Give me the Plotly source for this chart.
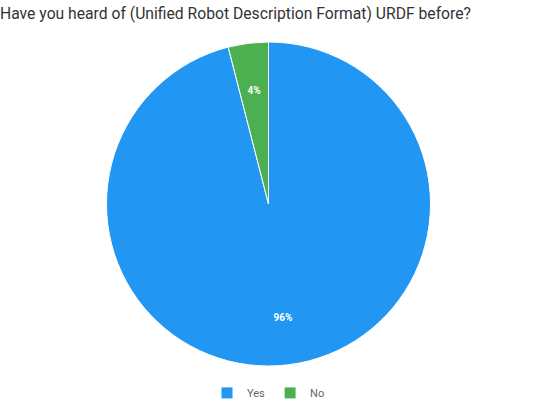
import plotly.graph_objects as go

labels = ["Yes", "No"]
counts = [24, 1]
colors = ["#2196F3", "#4CAF50"]

fig = go.Figure()

# filled pie, no text
fig.add_trace(go.Pie(
    labels=labels,
    values=counts,
    sort=False,
    direction="clockwise",
    rotation=0,
    marker=dict(colors=colors, line=dict(color="white", width=1)),
    textinfo="none",
    hoverinfo="label+percent",
))

# smaller transparent donut on top, only used to place the percent labels around 0.7R
f = 0.795
fig.add_trace(go.Pie(
    labels=labels,
    values=counts,
    sort=False,
    direction="clockwise",
    rotation=0,
    hole=0.78,
    domain=dict(x=[0, 1], y=[0.5 - f / 2, 0.5 + f / 2]),
    marker=dict(colors=["rgba(0,0,0,0)"] * 2, line=dict(width=0)),
    textinfo="percent",
    texttemplate="%{percent:.0%}",
    textposition="inside",
    insidetextorientation="horizontal",
    textfont=dict(family="Roboto", size=10, color="white", weight="bold"),
    hoverinfo="skip",
    showlegend=False,
))

fig.update_layout(
    width=537,
    height=418,
    margin=dict(l=0, r=0, t=42, b=52),
    paper_bgcolor="white",
    font=dict(family="Roboto", color="#666666"),
    title=dict(
        text="Have you heard of (Unified Robot Description Format) URDF before?",
        x=0,
        xanchor="left",
        xref="container",
        y=0.968,
        yanchor="middle",
        yref="container",
        pad=dict(l=0, t=0, r=0, b=0),
        font=dict(family="Roboto", size=15.7, color="#333333"),
    ),
    showlegend=True,
    legend=dict(
        orientation="h",
        x=0.5,
        xanchor="center",
        xref="paper",
        y=0.06,
        yanchor="middle",
        yref="container",
        itemwidth=30,
        font=dict(family="Roboto", size=11, color="#666666"),
    ),
)

fig.write_html(
    "out.html",
    config={"displayModeBar": False},
    post_script="document.body.style.margin='0';",
)
